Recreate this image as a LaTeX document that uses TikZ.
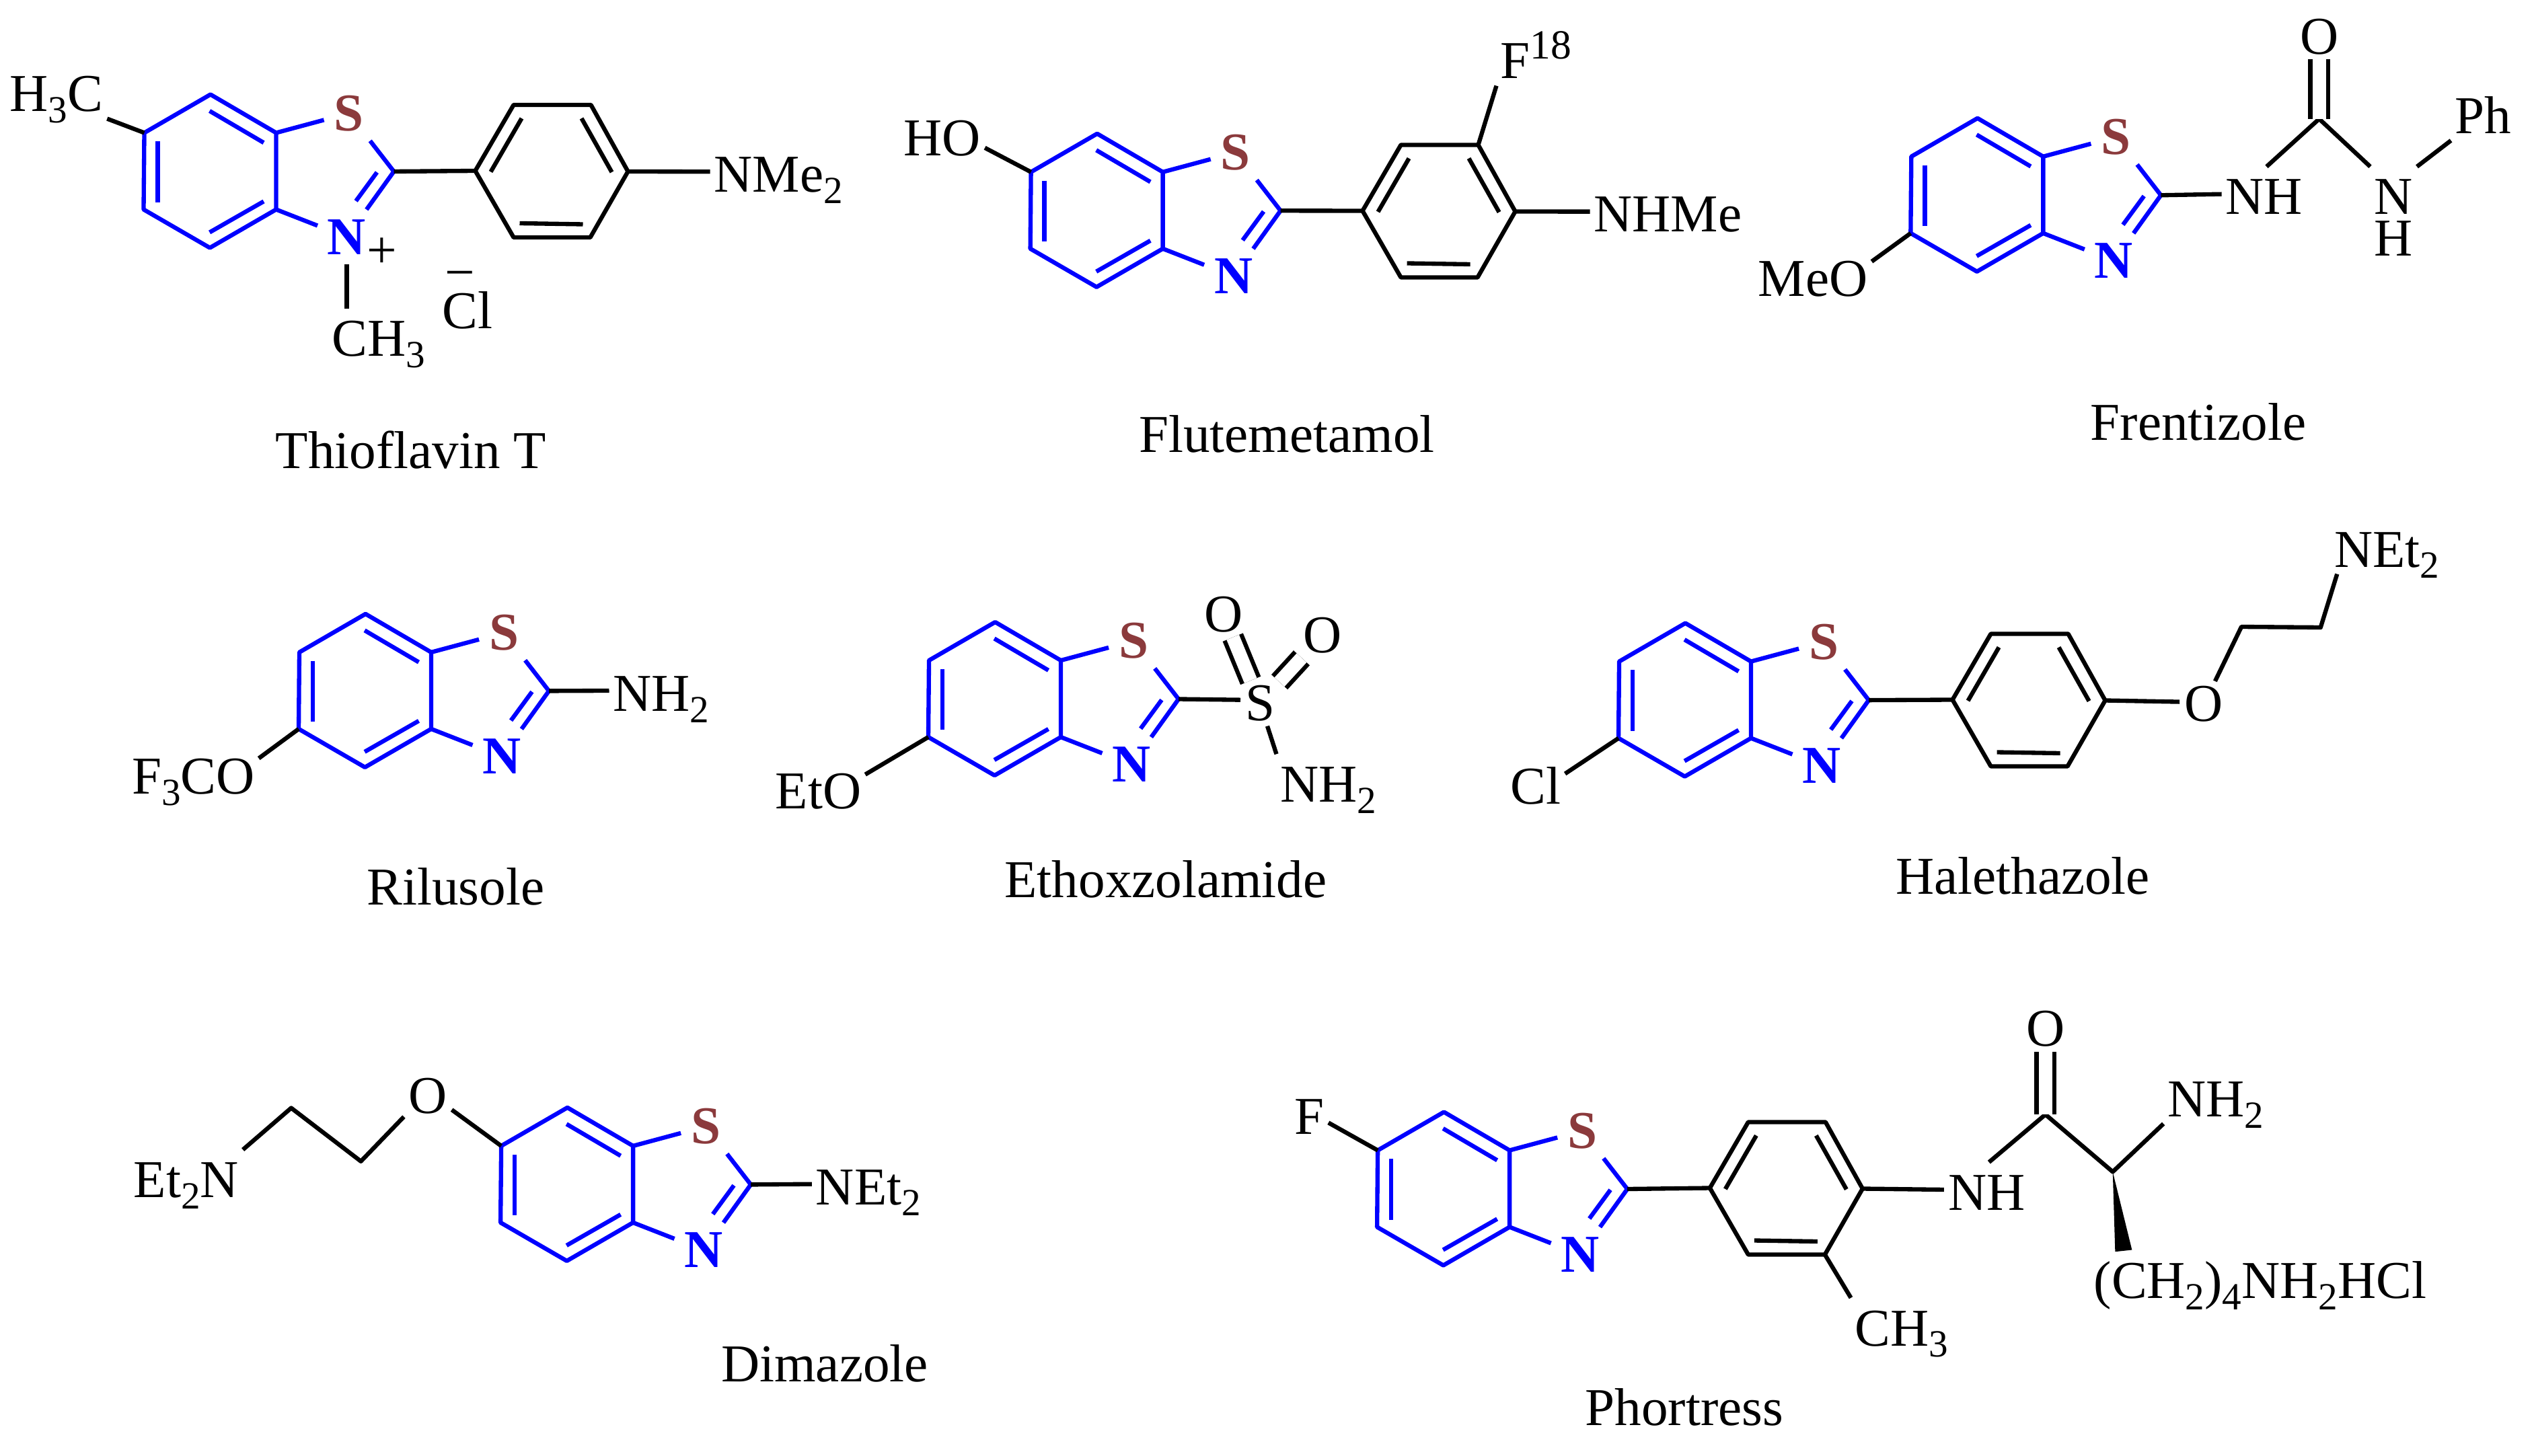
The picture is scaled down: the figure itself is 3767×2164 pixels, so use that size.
\documentclass[tikz,border=0pt]{standalone}
\usepackage{fontspec}
\setmainfont{Liberation Serif}
\definecolor{corecol}{RGB}{0,0,255}
\definecolor{sulfcol}{RGB}{139,58,60}
\newcommand{\dn}[1]{\raisebox{-1.9pt}{\fontsize{6.5}{7}\selectfont #1}}
\newcommand{\upp}[1]{\raisebox{3.4pt}{\fontsize{7}{8}\selectfont #1}}
\tikzset{
  every node/.style={font=\fontsize{9}{11}\selectfont},
  bond/.style={line width=0.72pt,line join=round},
  corebond/.style={bond,draw=corecol},
  dblbond/.style={bond,double,double distance=0.08cm},
  atomlbl/.style={xshift=-0.4pt,inner xsep=0.5pt,inner ysep=1pt,text height=6.9pt,text depth=0pt,anchor=base west},
  atomctr/.style={inner xsep=0.6pt,inner ysep=0.7pt,text height=5.9pt,text depth=0pt},
  heteroS/.style={atomctr,inner sep=1.5pt,text=sulfcol,font=\fontsize{9}{11}\selectfont\bfseries},
  heteroN/.style={atomctr,inner sep=1.5pt,text=corecol,font=\fontsize{9}{11}\selectfont\bfseries},
  basetext/.style={inner sep=0pt,anchor=base},
}
\newcommand{\bzt}[3]{%
  \begin{scope}[shift={(#2,#3)}]
    \coordinate (#1a) at (-97.6,-57);
    \coordinate (#1b) at (0,0);
    \coordinate (#1c) at (0,114);
    \coordinate (#1d) at (-98.5,171);
    \coordinate (#1e) at (-197,114);
    \coordinate (#1f) at (-196,0);
    \coordinate (#1C) at (175,57.5);
    \coordinate (#1p) at (-98.9,-32.5);
    \coordinate (#1q) at (-18.5,14.7);
    \coordinate (#1s) at (-18.5,102);
    \coordinate (#1t) at (-98.9,148);
    \coordinate (#1u) at (-176,12.8);
    \coordinate (#1v) at (-176,103.3);
    \coordinate (#1w) at (149.9,58.7);
    \coordinate (#1x) at (118.6,101.4);
    \node[heteroS] (#1S) at (108,-29) {S};
    \node[heteroN] (#1N) at (105,155) {N};
    \draw[corebond] (#1f) -- (#1a) -- (#1b) -- (#1c) -- (#1d) -- (#1e) -- cycle;
    \draw[corebond] (#1p) -- (#1q);
    \draw[corebond] (#1s) -- (#1t);
    \draw[corebond] (#1u) -- (#1v);
    \draw[corebond] (#1w) -- (#1x);
    \draw[corebond] (#1b) -- (#1S);
    \draw[corebond] (#1S) -- (#1C) -- (#1N);
    \draw[corebond] (#1N) -- (#1c);
  \end{scope}}
\newcommand{\phring}[3]{%
  \begin{scope}[shift={(#2,#3)}]
    \coordinate (#1l) at (0,0);
    \coordinate (#1ul) at (57,-98);
    \coordinate (#1ur) at (172,-98);
    \coordinate (#1r) at (227,1);
    \coordinate (#1lr) at (171,99);
    \coordinate (#1ll) at (57,99);
    \coordinate (#1ia) at (23,1.5);
    \coordinate (#1ib) at (69,-78);
    \coordinate (#1ic) at (158,-78);
    \coordinate (#1id) at (203,2);
    \coordinate (#1ie) at (66,78);
    \coordinate (#1if) at (160,79.5);
    \draw[bond] (#1l) -- (#1ul) -- (#1ur) -- (#1r) -- (#1lr) -- (#1ll) -- cycle;
    \draw[bond] (#1ia) -- (#1ib);
    \draw[bond] (#1ic) -- (#1id);
    \draw[bond] (#1ie) -- (#1if);
  \end{scope}}
\begin{document}
\begin{tikzpicture}[x=0.004cm,y=-0.004cm]
  \useasboundingbox (0,0) rectangle (3767,2164);

  \bzt{th}{410.5}{197.5}
  \phring{th}{706.5}{254}
  \node[atomlbl] (thhc) at (12,166) {H\dn{3}C};
  \node[atomlbl] (thnme) at (1059,285.6) {NMe\dn{2}};
  \node[atomlbl] (thme) at (491,530) {CH\dn{3}};
  \node[atomlbl,text height=5.9pt,inner ysep=0pt] (thcl) at (655,489) {Cl};
  \node[basetext] (thplus) at (568,399) {+};
  \node[basetext] (thminus) at (684,432) {−};
  \draw[bond] (thf) -- (thhc.south east);
  \draw[bond] (thC) -- (thl);
  \draw[bond] (thr) -- (thnme.west);
  \draw[bond] (thN.south) -- (thN.south |- thme.north);
  \node[basetext] (thname) at (611,696) {Thioflavin T};

  \bzt{fl}{1728.6}{255.8}
  \phring{fl}{2025.5}{313.5}
  \node[atomlbl] (flho) at (1341,232) {HO};
  \node[atomlbl] (flfl) at (2228,117) {F\upp{18}};
  \node[atomlbl] (flnh) at (2367,345) {NHMe};
  \draw[bond] (flf) -- (flho.-16);
  \draw[bond] (flC) -- (fll);
  \draw[bond] (flur) -- (flfl.south west);
  \draw[bond] (flr) -- (flnh.west);
  \node[basetext] (flname) at (1913,672.7) {Flutemetamol};

  \bzt{fr}{3037.3}{232.8}
  \node[atomlbl] (frmeo) at (2611,441) {MeO};
  \node[atomlbl] (frnh) at (3306,319) {NH};
  \node[atomlbl] (frn) at (3527,319) {N};
  \node[atomlbl,text height=5.9pt,inner ysep=0pt] (frh) at (3527,381) {H};
  \node[atomlbl] (frph) at (3647,198.4) {Ph};
  \node[atomctr] (fro) at (3447.6,54.4) {O};
  \coordinate (frco) at (3447.6,176.8);
  \draw[bond] (fre) -- (frmeo.14);
  \draw[bond] (frC) -- (frnh.west);
  \draw[bond] (frnh.85) -- (frco) -- (frn.north west);
  \draw[dblbond] (frco) -- (fro);
  \draw[bond] (frn.north east) -- (frph.south west);
  \node[basetext] (frname) at (3268,654.3) {Frentizole};

  \bzt{ri}{641}{969.9}
  \node[atomlbl] (rif) at (193.4,1180.4) {F\dn{3}CO};
  \node[atomlbl] (rinh) at (909,1057.3) {NH\dn{2}};
  \draw[bond] (rie) -- (rif.13);
  \draw[bond] (riC) -- (rinh.west);
  \node[basetext] (riname) at (677.5,1345.5) {Rilusole};

  \bzt{et}{1577}{982}
  \node[atomlbl] (eteto) at (1150,1202) {EtO};
  \node[atomctr] (etsu) at (1873,1045.8) {S};
  \node[atomctr] (etoa) at (1818.8,913.8) {O};
  \node[atomctr] (etob) at (1966,944.4) {O};
  \node[atomlbl] (etnh) at (1901,1192.5) {NH\dn{2}};
  \draw[bond] (ete) -- (eteto.16);
  \draw[bond] (etC) -- (etsu.170);
  \draw[dblbond] (etsu) -- (etoa);
  \draw[dblbond] (etsu) -- (etob);
  \draw[bond] (etsu) -- (etnh.north west);
  \node[basetext] (etname) at (1733,1334.7) {Ethoxzolamide};

  \bzt{ha}{2603}{983.6}
  \phring{ha}{2902.5}{1040.5}
  \node[atomlbl] (hacl) at (2243,1195) {Cl};
  \node[atomctr] (hao) at (3275.6,1046.7) {O};
  \node[atomlbl] (hanet) at (3467.3,843) {NEt\dn{2}};
  \coordinate (haca) at (3332,932);
  \coordinate (hacb) at (3449.7,933);
  \draw[bond] (hae) -- (hacl.18);
  \draw[bond] (haC) -- (hal);
  \draw[bond] (har) -- (hao.175);
  \draw[bond] (hao.63) -- (haca) -- (hacb) -- (hanet.-151);
  \node[basetext] (haname) at (3007,1329.2) {Halethazole};

  \bzt{di}{941.1}{1703.9}
  \node[atomlbl] (dinet) at (1210.3,1791) {NEt\dn{2}};
  \node[atomlbl] (diet) at (196.3,1780.7) {Et\dn{2}N};
  \node[atomctr] (dio) at (636,1629.6) {O};
  \coordinate (dica) at (536.5,1726.8);
  \coordinate (dicb) at (432.9,1647.5);
  \draw[bond] (diC) -- (dinet.west);
  \draw[bond] (dif) -- (dio.-30);
  \draw[bond] (dio.-139) -- (dica) -- (dicb) -- (diet.north east);
  \node[basetext] (diname) at (1226,2054.6) {Dimazole};

  \bzt{ph}{2244.1}{1710.5}
  \phring{ph}{2541.8}{1766.5}
  \node[atomlbl] (phfl) at (1922,1686) {F};
  \node[atomlbl] (phme) at (2755,2001) {CH\dn{3}};
  \node[atomlbl] (phnh) at (2893.4,1799.3) {NH};
  \node[atomctr] (pho) at (3040.7,1529.7) {O};
  \node[atomlbl] (phnb) at (3219.6,1660.4) {NH\dn{2}};
  \node[atomlbl] (phlong) at (3110,1930.4) {(CH\dn{2})\dn{4}NH\dn{2}HCl};
  \coordinate (phco) at (3040.7,1657.2);
  \coordinate (phca) at (3140.7,1742.4);
  \coordinate (phwa) at (3144.3,1861.2);
  \coordinate (phwb) at (3169.3,1858.5);
  \draw[bond] (phf) -- (phfl.-26);
  \draw[bond] (phC) -- (phl);
  \draw[bond] (phlr) -- (phme.north west);
  \draw[bond] (phr) -- (phnh.west);
  \draw[bond] (phnh.85) -- (phco) -- (phca) -- (phnb.south west);
  \draw[dblbond] (phco) -- (pho);
  \fill (phca) -- (phwa) -- (phwb) -- cycle;
  \node[basetext] (phname) at (2504,2119.4) {Phortress};
\end{tikzpicture}
\end{document}
